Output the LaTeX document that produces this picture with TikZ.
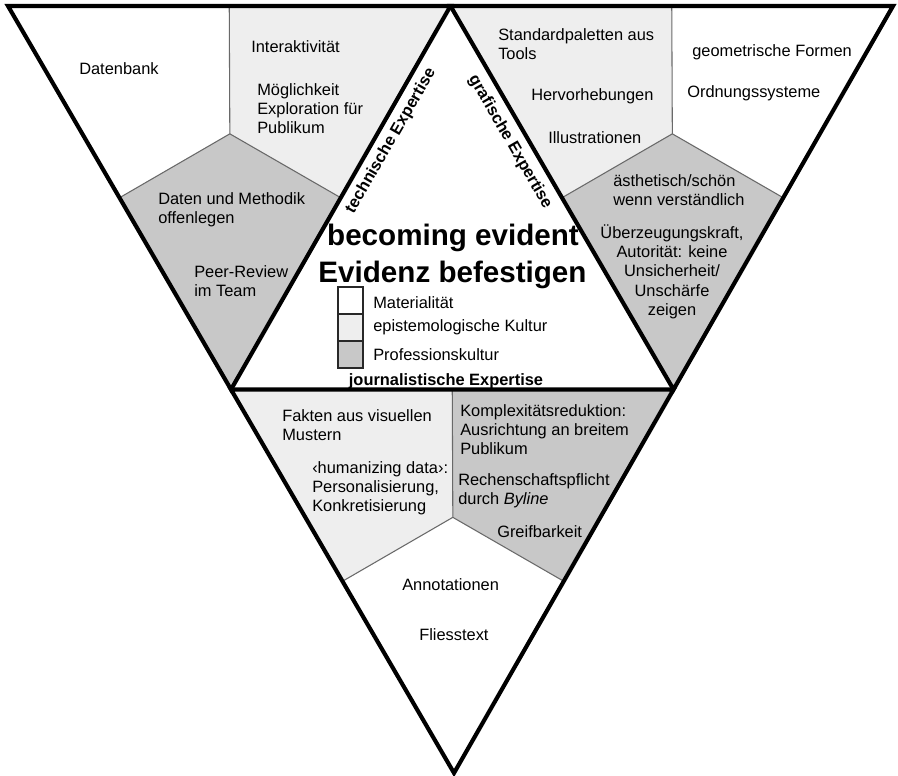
\documentclass[tikz,border=0pt]{standalone}
\usepackage{fontspec}
\setmainfont{Liberation Sans}
\usetikzlibrary{calc}
\definecolor{lightfill}{RGB}{238,238,238}
\definecolor{darkfill}{RGB}{200,200,200}
\definecolor{divline}{RGB}{105,105,105}
\definecolor{boxline}{RGB}{40,40,40}
\newcommand\bodyfont{\fontsize{12.3}{14.6}\selectfont}
\newcommand\Ltab[1]{\begin{tabular}[t]{@{}l@{}}#1\end{tabular}}
\newcommand\Ctab[1]{\begin{tabular}[t]{@{}c@{}}#1\end{tabular}}
\begin{document}
\begin{tikzpicture}[x=0.75pt,y=-0.75pt,
  thickedge/.style={line width=3.1pt, line join=miter},
  divider/.style={draw=divline, line width=0.8pt},
  txt/.style={font=\bodyfont, inner sep=0pt, anchor=base west},
  txtc/.style={font=\bodyfont, inner sep=0pt, anchor=base},
  edgelabel/.style={font=\bfseries\fontsize{12.3}{14.6}\selectfont, inner sep=0pt},
  titletext/.style={font=\bfseries\fontsize{22.2}{26}\selectfont, inner sep=0pt, anchor=base},
  legbox/.style={draw=boxline, line width=0.9pt, minimum width=18.75pt, minimum height=20.25pt, inner sep=0pt}
]
\useasboundingbox (0,0) rectangle (898,775);
% main vertices
\coordinate (TL) at (8,6);
\coordinate (TM) at (450.5,6);
\coordinate (TR) at (893,6);
\coordinate (LM) at (231,389.5);
\coordinate (RM) at (673.5,389.5);
\coordinate (B) at (454,773);
% left triangle
\coordinate (LP) at (barycentric cs:TL=1,TM=1,LM=1);
\coordinate (L1) at ($(TL)!0.5!(TM)$);
\coordinate (L2) at ($(TL)!0.5!(LM)$);
\coordinate (L3) at ($(TM)!0.5!(LM)$);
% right triangle
\coordinate (RP) at (barycentric cs:TM=1,TR=1,RM=1);
\coordinate (R1) at ($(TM)!0.5!(TR)$);
\coordinate (R2) at ($(TM)!0.5!(RM)$);
\coordinate (R3) at ($(TR)!0.5!(RM)$);
% bottom triangle
\coordinate (BP) at (barycentric cs:LM=1,RM=1,B=1);
\coordinate (B1) at ($(LM)!0.5!(RM)$);
\coordinate (B2) at ($(LM)!0.5!(B)$);
\coordinate (B3) at ($(RM)!0.5!(B)$);

% fills
\fill[white] (TL) -- (L1) -- (LP) -- (L2) -- cycle;
\fill[lightfill] (L1) -- (TM) -- (L3) -- (LP) -- cycle;
\fill[darkfill] (L2) -- (LP) -- (L3) -- (LM) -- cycle;
\fill[lightfill] (TM) -- (R1) -- (RP) -- (R2) -- cycle;
\fill[white] (R1) -- (TR) -- (R3) -- (RP) -- cycle;
\fill[darkfill] (R2) -- (RP) -- (R3) -- (RM) -- cycle;
\fill[lightfill] (LM) -- (B1) -- (BP) -- (B2) -- cycle;
\fill[darkfill] (B1) -- (RM) -- (B3) -- (BP) -- cycle;
\fill[white] (B2) -- (BP) -- (B3) -- (B) -- cycle;

% dividers
\draw[divider] (L1) -- (LP) (L2) -- (LP) (L3) -- (LP);
\draw[divider] (R1) -- (RP) (R2) -- (RP) (R3) -- (RP);
\draw[divider] (B1) -- (BP) (B2) -- (BP) (B3) -- (BP);

% outlines
\draw[thickedge] (TL) -- (TM) -- (LM) -- cycle;
\draw[thickedge] (TM) -- (TR) -- (RM) -- cycle;
\draw[thickedge] (LM) -- (RM) -- (B) -- cycle;

% left triangle texts
\node[txt] (datenbank) at (79,74) {Datenbank};
\node[txt] (interakt) at (251,52) {Interaktivität};
\node[txt] (moegl) at (257,95) {\Ltab{Möglichkeit\\Exploration für\\Publikum}};
\node[txt] (methodik) at (158,204) {\Ltab{Daten und Methodik\\offenlegen}};
\node[txt] (peer) at (194,277) {\Ltab{Peer-Review\\im Team}};

% right triangle texts
\node[txt] (standard) at (498,40) {\Ltab{Standardpaletten aus\\Tools}};
\node[txt] (hervor) at (531,100) {Hervorhebungen};
\node[txt] (illu) at (548,143) {Illustrationen};
\node[txt] (geom) at (692,56) {geometrische Formen};
\node[txt] (ordn) at (687,97) {Ordnungssysteme};
\node[txt] (aesth) at (613,186) {\Ltab{ästhetisch/schön\\wenn verständlich}};
\node[txtc] (ueberz) at (672,238) {\Ctab{Überzeugungskraft,\\Autorität: keine\\Unsicherheit/\\Unschärfe\\zeigen}};

% bottom triangle texts
\node[txt] (fakten) at (282,421) {\Ltab{Fakten aus visuellen\\Mustern}};
\node[txt] (human) at (312,473) {\Ltab{‹humanizing data›:\\Personalisierung,\\Konkretisierung}};
\node[txt] (komplex) at (460,416) {\Ltab{Komplexitätsreduktion:\\Ausrichtung an breitem\\Publikum}};
\node[txt] (rechen) at (458,485) {\Ltab{Rechenschaftspflicht\\durch \textit{Byline}}};
\node[txt] (greif) at (497,537) {Greifbarkeit};
\node[txt] (annot) at (402,590) {Annotationen};
\node[txt] (fliess) at (419,640) {Fliesstext};

% central triangle
\node[titletext] (title1) at (453,245) {becoming evident};
\node[titletext] (title2) at (452.5,282) {Evidenz befestigen};
\node[legbox, fill=white] (key1) at (350.5,300.5) {};
\node[legbox, fill=lightfill] (key2) at (350.5,327.5) {};
\node[legbox, fill=darkfill] (key3) at (350.5,354.5) {};
\node[txt] (leg1) at (373,308.3) {Materialität};
\node[txt] (leg2) at (373,331.7) {epistemologische Kultur};
\node[txt] (leg3) at (373,360.7) {Professionskultur};
\node[edgelabel, anchor=base] (journ) at (446,385) {journalistische Expertise};
\node[edgelabel, rotate=60] (techn) at (391,141) {technische Expertise};
\node[edgelabel, rotate=-60] (grafik) at (510,142) {grafische Expertise};
\end{tikzpicture}
\end{document}
